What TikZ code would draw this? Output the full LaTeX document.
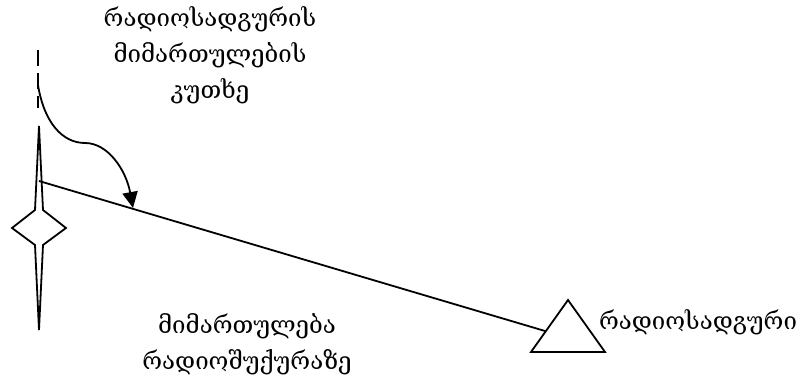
\documentclass[tikz,border=0pt]{standalone}
\usepackage{fontspec}
\setmainfont{DejaVu Serif}
\usetikzlibrary{arrows.meta}

\begin{document}
\begin{tikzpicture}[
    x=0.25mm, y=-0.25mm,
    font=\fontsize{17.1}{25.6}\selectfont,
    label/.style={align=center, inner sep=0pt},
    outline/.style={line width=0.45mm, line join=miter},
    conn/.style={-{Triangle[length=4mm, width=3.8mm]}, line width=0.45mm},
]
    \useasboundingbox (0,0) rectangle (801,381);

    % Heading line above the needle, and the needle itself.
    \coordinate (headingtop) at (38,50);
    \coordinate (headingend) at (38,108);
    \coordinate (arcstart) at (38,85);
    \draw[outline, dash pattern=on 4mm off 1.8mm] (headingtop) -- (headingend);
    \draw[outline] (39,126) -- (43,210) -- (66,228) -- (43,245) -- (39,330)
        -- (35,245) -- (12,228) -- (35,210) -- cycle;

    % ---------- Station triangle ----------
    \coordinate (apex) at (568,300);
    \coordinate (baseleft) at (531,352);
    \coordinate (baseright) at (605,352);
    \draw[outline] (apex) -- (baseleft) -- (baseright) -- cycle;

    % ---------- Bearing line and angle ----------
    \coordinate (bearingstart) at (39,181);
    \coordinate (bearingend) at (545,331);
    \coordinate (arctip) at (133,208);
    \draw[outline] (bearingstart) -- (bearingend);
    \draw[conn] (arcstart) .. controls (44,122) and (62,143) .. (85,143)
        .. controls (108,143) and (126,170) .. (arctip);

    % ---------- Labels ----------
    \node[label] (anglelabel) at (210,55) {რადიოსადგურის\\მიმართულების\\კუთხე};
    \node[label] (bearinglabel) at (247,344) {მიმართულება\\რადიოშუქურაზე};
    \node[label] (stationlabel) at (698,322) {რადიოსადგური};
\end{tikzpicture}
\end{document}
